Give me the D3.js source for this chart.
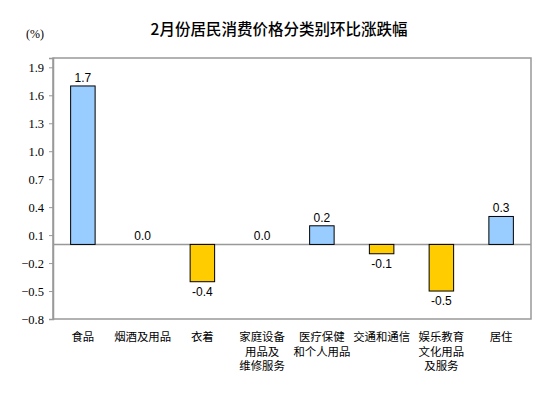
<!DOCTYPE html>
<html>
<head>
<meta charset="utf-8">
<script src="https://cdn.jsdelivr.net/npm/d3@7"></script>
<style>
  body { margin: 0; background: #fff; }
</style>
</head>
<body>
<div id="chart"></div>
<script>
// data
var categories = ["食品", "烟酒及用品", "衣着", "家庭设备|用品及|维修服务", "医疗保健|和个人用品", "交通和通信", "娱乐教育|文化用品|及服务", "居住"];
var values = [1.7, 0.0, -0.4, 0.0, 0.2, -0.1, -0.5, 0.3];
var tickValues = [-0.8, -0.5, -0.2, 0.1, 0.4, 0.7, 1.0, 1.3, 1.6, 1.9];

var data = categories.map(function(c, i) { return {cat: c, value: values[i]}; });

var margin = {top: 58, right: 23, bottom: 79, left: 53},
    width = 554 - margin.left - margin.right,
    height = 398 - margin.top - margin.bottom;

var svg = d3.select("#chart")
  .append("svg")
    .attr("width", 554)
    .attr("height", 398);

// title and unit
svg.append("text")
  .attr("x", 279).attr("y", 35)
  .attr("text-anchor", "middle")
  .style("font-family", "'Noto Sans CJK SC', sans-serif")
  .style("font-size", "15.5px")
  .style("font-weight", "500")
  .text("2月份居民消费价格分类别环比涨跌幅");

svg.append("text")
  .attr("x", 35).attr("y", 38)
  .attr("text-anchor", "middle")
  .style("font-family", "'Liberation Serif', serif")
  .style("font-size", "12px")
  .text("(%)");

var g = svg.append("g")
  .attr("transform", "translate(" + margin.left + "," + margin.top + ")");

var x = d3.scaleBand()
  .domain(categories)
  .range([0, width])
  .paddingInner(0.59)
  .paddingOuter(0.295);

var y = d3.scaleLinear()
  .domain([-0.8, 2.0])
  .range([height, 0]);

// plot frame
g.append("rect")
  .attr("x", 0).attr("y", 0)
  .attr("width", width).attr("height", height)
  .attr("fill", "none")
  .attr("stroke", "#999")
  .attr("stroke-width", 1.5);

// y axis
var yAxis = g.append("g")
  .call(d3.axisLeft(y).tickValues(tickValues).tickSize(4).tickFormat(d3.format(".1f")));
yAxis.attr("font-family", "'Liberation Serif', serif");
yAxis.select(".domain").attr("stroke", "#999").attr("stroke-width", 1.5);
yAxis.selectAll(".tick line").attr("stroke", "#999");
yAxis.selectAll(".tick text")
  .attr("x", -9)
  .style("font-family", "'Liberation Serif', serif")
  .style("font-size", "12.5px")
  .attr("fill", "#000");

// zero line
g.append("line")
  .attr("x1", 0).attr("x2", width)
  .attr("y1", y(0)).attr("y2", y(0))
  .attr("stroke", "#999")
  .attr("stroke-width", 1.5);

// bars
g.selectAll("rect.bar")
  .data(data.filter(function(d) { return d.value !== 0; }))
  .enter()
  .append("rect")
    .attr("class", "bar")
    .attr("x", function(d) { return x(d.cat); })
    .attr("y", function(d) { return y(Math.max(0, d.value)); })
    .attr("width", x.bandwidth())
    .attr("height", function(d) { return Math.abs(y(d.value) - y(0)); })
    .attr("fill", function(d) { return d.value > 0 ? "#99CCFF" : "#FFCC00"; })
    .attr("stroke", "#000")
    .attr("stroke-width", 1);

// value labels
g.selectAll("text.val")
  .data(data)
  .enter()
  .append("text")
    .attr("class", "val")
    .attr("x", function(d) { return x(d.cat) + x.bandwidth() / 2; })
    .attr("y", function(d) { return d.value < 0 ? y(d.value) + 14 : y(d.value) - 4; })
    .attr("text-anchor", "middle")
    .style("font-family", "'Liberation Sans', Arial, sans-serif")
    .style("font-size", "12px")
    .text(function(d) { return d3.format(".1f")(d.value).replace("−", "-"); });

// category labels
var cl = g.selectAll("text.cat")
  .data(categories)
  .enter()
  .append("text")
    .attr("class", "cat")
    .attr("x", function(d) { return x(d) + x.bandwidth() / 2; })
    .attr("y", height + 22)
    .attr("text-anchor", "middle")
    .style("font-family", "'Noto Sans CJK SC', sans-serif")
    .style("font-size", "11.4px");

cl.selectAll("tspan")
  .data(function(d) { return d.split("|"); })
  .enter()
  .append("tspan")
    .attr("x", function() { var p = d3.select(this.parentNode).datum(); return x(p) + x.bandwidth() / 2; })
    .attr("dy", function(d, i) { return i === 0 ? 0 : 14.5; })
    .text(function(d) { return d; });
</script>
</body>
</html>
